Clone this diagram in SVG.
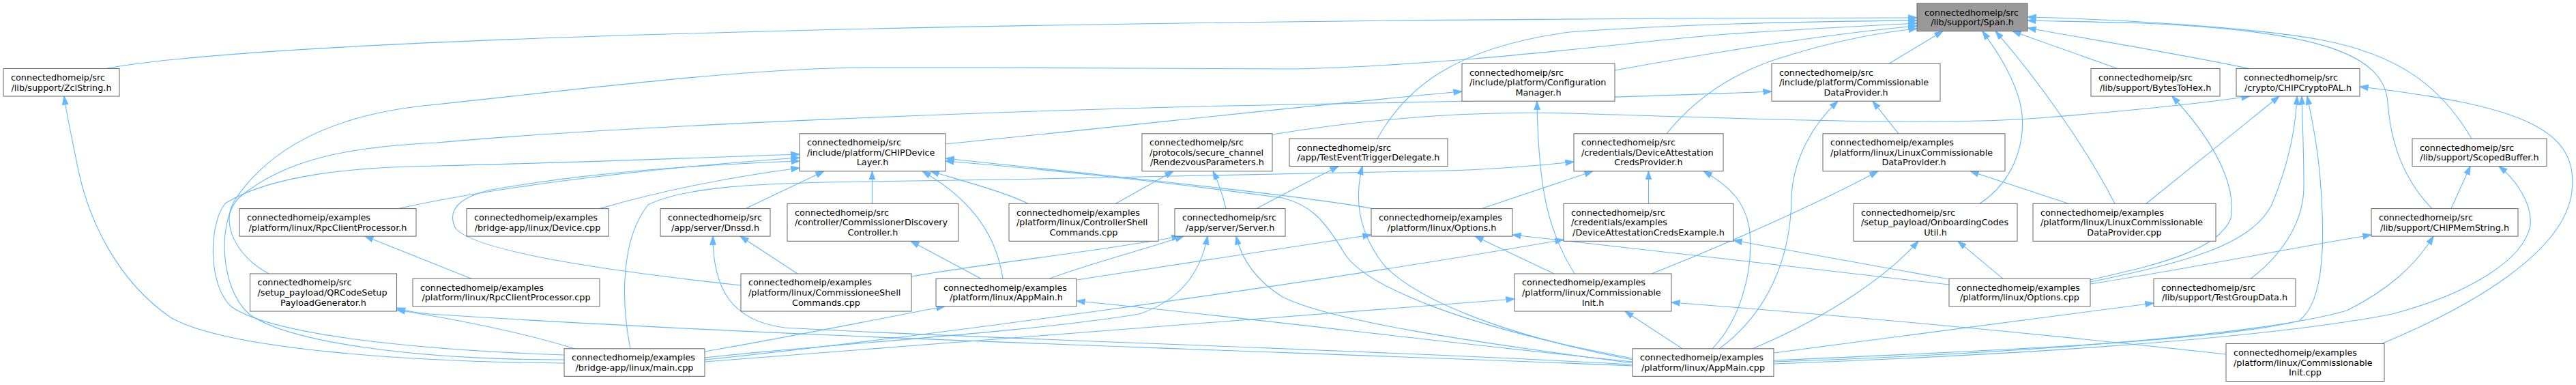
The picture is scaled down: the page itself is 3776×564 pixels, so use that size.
<svg xmlns="http://www.w3.org/2000/svg" width="3776" height="564" viewBox="0 0 3776 564">
<style>
.n rect{fill:#ffffff;stroke:#666666;stroke-width:1}
#n0 rect{fill:#999999}
text{font-family:"DejaVu Sans","Liberation Sans",sans-serif;font-size:12.8px;fill:#000000}
.m{text-anchor:middle}
#edges path{fill:none;stroke:#63b8ff;stroke-width:1.1;marker-end:url(#arr)}
</style>
<defs>
<marker id="arr" markerUnits="userSpaceOnUse" markerWidth="13" markerHeight="10" viewBox="0 0 13 10" refX="12.5" refY="5" orient="auto">
<path d="M0,0.6 L13,5 L0,9.4 z" fill="#63b8ff" stroke="#63b8ff" stroke-width="0.8"/>
</marker>
</defs>
<rect width="3776" height="564" fill="#ffffff"/>
<g id="edges">
<path d="M155,100.5 C400,55 1500,28 2810,26"/>
<path d="M2019,203 C2060,130 2130,70 2300,47 C2500,33 2700,31 2810,30"/>
<path d="M394,401 C345,375 322,325 345,292 C400,210 500,165 640,153 C900,125 1100,100 1270,99 C1500,98 1800,102 1900,101 C2150,95 2400,60 2530,50 C2650,42 2750,37 2810,34"/>
<path d="M2367,103 C2450,88 2650,52 2810,38"/>
<path d="M2769,93.2 L2848,45.7"/>
<path d="M2443,195.8 C2480,150 2530,112 2600,88 C2680,62 2750,48 2810,42"/>
<path d="M2902,298.3 C2960,260 2975,190 2958,140 C2945,100 2922,68 2906,45.7"/>
<path d="M3100,298.3 C3060,220 2990,120 2925,45.7"/>
<path d="M3104,100.5 L2950,45.7"/>
<path d="M3297,100.5 C3200,80 3050,55 2972,41"/>
<path d="M3623,203 C3580,130 3520,80 3400,58 C3300,40 3100,28 2972,25"/>
<path d="M3565,305.6 C3530,270 3505,220 3500,150 C3495,80 3400,45 3140,34 C3080,32 3010,31 2972,30"/>
<path d="M1386,211 C1650,185 1900,156 2143,134"/>
<path d="M827,527 C600,527 420,500 365,460 C320,420 320,320 350,290 C420,230 520,215 640,209 C900,185 1500,160 1900,153 C2200,148 2450,140 2597,134"/>
<path d="M827,520 C600,512 400,490 340,450 C305,420 305,330 330,298 C400,255 520,245 640,243 C850,238 1050,230 1172,226"/>
<path d="M827,532 C600,530 330,512 250,465 C170,410 130,320 115,250 C105,200 98,170 94,141"/>
<path d="M842,510.8 C760,485 650,465 581.5,454"/>
<path d="M924,510.8 C910,440 910,350 950,300 C1000,275 1100,268 1270,266 C1600,262 2000,252 2118,250 C2200,248 2260,242 2307,237"/>
<path d="M1033,515 C1150,495 1300,465 1385,448.8"/>
<path d="M1033,524 C1200,505 1500,488 1670,460 C1730,440 1760,400 1770,346"/>
<path d="M1033,527 C1300,500 1900,420 2292,351"/>
<path d="M1033,530 C1400,502 1900,462 2220,438"/>
<path d="M584,305.6 C700,280 900,250 1172,231"/>
<path d="M1086,418 C900,398 700,370 668,335 C650,300 690,285 720,278 C850,255 1000,242 1172,236"/>
<path d="M879,305.6 C950,285 1050,262 1172,246"/>
<path d="M1093,305.6 L1208,250.8"/>
<path d="M1278.4,298.3 L1278.4,250.8"/>
<path d="M1470,408.3 C1460,340 1420,290 1352,250.8"/>
<path d="M1507,298.3 C1470,280 1400,262 1364,250.8"/>
<path d="M1635.5,298.3 L1720,250.8"/>
<path d="M1797,305.6 C1792,285 1785,265 1778,250.8"/>
<path d="M1842,305.6 C1880,285 1920,265 1962,243.5"/>
<path d="M2393,527 C2200,490 2080,440 2030,390 C1990,340 1985,290 1997,243.5"/>
<path d="M2393,525 C2150,480 2000,420 1970,370 C1940,320 1920,300 1880,290 C1700,265 1500,245 1386,236"/>
<path d="M2012,305.6 C1900,285 1600,255 1386,232"/>
<path d="M1438,408.3 L1335,353.3"/>
<path d="M1538,408.3 C1600,385 1680,365 1735,346"/>
<path d="M1336,405 C1450,385 1600,370 1730,346"/>
<path d="M1578,410 C1750,385 1900,362 2010,344"/>
<path d="M2393,530 C2100,500 1800,462 1578,441"/>
<path d="M2393,532 C2150,500 1950,470 1880,435 C1840,410 1820,380 1812,346"/>
<path d="M2393,534 C2000,512 1400,495 1150,480 C1070,470 1045,420 1045,346"/>
<path d="M1169,401 L1085,346"/>
<path d="M691,408.3 L535,346"/>
<path d="M2393,536 C1900,515 1200,497 630,460 C610,458 595,456 581.5,451"/>
<path d="M2308,401 C2270,340 2255,280 2253,148.2"/>
<path d="M2278,401 L2162,346"/>
<path d="M2421,401 C2550,350 2680,290 2753,250.8"/>
<path d="M3032,298.3 L2888,250.8"/>
<path d="M2783,195.8 L2745,148.2"/>
<path d="M2520,510.8 C2590,460 2625,380 2626,290 C2628,230 2660,180 2694,148.2"/>
<path d="M2510,510.8 C2550,470 2570,400 2565,340 C2560,300 2540,275 2497,250.8"/>
<path d="M2569,510.8 C2690,460 2770,400 2812,353.3"/>
<path d="M2936,408.3 L2870,353.3"/>
<path d="M2857,417 C2700,398 2400,365 2217,344"/>
<path d="M2857,409 L2541,352"/>
<path d="M3064,410 C3150,390 3250,370 3270,320 C3280,260 3230,190 3184,141"/>
<path d="M3064,413 C3200,385 3300,360 3330,300 C3355,240 3365,190 3367,141"/>
<path d="M3064,416 C3200,395 3350,365 3476,344"/>
<path d="M2600,517 C2800,490 3000,463 3157,444"/>
<path d="M2600,528 C2900,515 3250,500 3370,470 C3410,440 3408,340 3400,250 C3395,200 3388,170 3382,141"/>
<path d="M2600,530 C2900,520 3300,495 3440,455 C3500,425 3540,390 3567,346"/>
<path d="M2600,533 C2900,522 3300,500 3507,460 C3620,430 3700,380 3709,330 C3712,300 3690,265 3663,243.5"/>
<path d="M3593,305.6 L3621,243.5"/>
<path d="M3299,408.3 C3350,370 3378,320 3377,270 C3377,220 3375,180 3374,141"/>
<path d="M3146,298.3 L3341,141"/>
<path d="M1865,197 C2000,175 2150,162 2300,166 C2600,175 2850,185 3000,172 C3150,160 3250,148 3298,141"/>
<path d="M3491,503.5 C3620,450 3760,370 3770,280 C3780,190 3700,155 3459,127"/>
<path d="M3263,519 C3000,490 2700,462 2450,443"/>
<path d="M2416.5,298.3 L2416.5,250.8"/>
<path d="M2172,305.6 L2335,250.8"/>
<path d="M2466,510.8 L2382,456"/>
</g>
<g id="n0" class="n"><rect x="2810" y="5" width="162" height="40.7"/><text x="2821" y="22.5">connectedhomeip/src</text><text class="m" x="2891" y="37.1">/lib/support/Span.h</text></g>
<g id="n1" class="n"><rect x="5" y="100.5" width="170" height="40.5"/><text x="16" y="118">connectedhomeip/src</text><text class="m" x="90" y="132.6">/lib/support/ZclString.h</text></g>
<g id="n2" class="n"><rect x="2143" y="93.2" width="224" height="55"/><text x="2154" y="110.7">connectedhomeip/src</text><text x="2154" y="125.3">/include/platform/Configuration</text><text class="m" x="2255" y="139.9">Manager.h</text></g>
<g id="n3" class="n"><rect x="2597" y="93.2" width="247" height="55"/><text x="2608" y="110.7">connectedhomeip/src</text><text x="2608" y="125.3">/include/platform/Commissionable</text><text class="m" x="2720.5" y="139.9">DataProvider.h</text></g>
<g id="n4" class="n"><rect x="3065" y="100.5" width="189" height="40.5"/><text x="3076" y="118">connectedhomeip/src</text><text class="m" x="3159.5" y="132.6">/lib/support/BytesToHex.h</text></g>
<g id="n5" class="n"><rect x="3278" y="100.5" width="181" height="40.5"/><text x="3289" y="118">connectedhomeip/src</text><text class="m" x="3368.5" y="132.6">/crypto/CHIPCryptoPAL.h</text></g>
<g id="n6" class="n"><rect x="1172" y="195.8" width="214" height="55"/><text x="1183" y="213.2">connectedhomeip/src</text><text x="1183" y="227.8">/include/platform/CHIPDevice</text><text class="m" x="1279" y="242.4">Layer.h</text></g>
<g id="n7" class="n"><rect x="1674" y="195.8" width="191" height="55"/><text x="1685" y="213.2">connectedhomeip/src</text><text x="1685" y="227.8">/protocols/secure_channel</text><text class="m" x="1769.5" y="242.4">/RendezvousParameters.h</text></g>
<g id="n8" class="n"><rect x="1890" y="203" width="232" height="40.5"/><text x="1901" y="220.5">connectedhomeip/src</text><text class="m" x="2006" y="235.1">/app/TestEventTriggerDelegate.h</text></g>
<g id="n9" class="n"><rect x="2307" y="195.8" width="219" height="55"/><text x="2318" y="213.2">connectedhomeip/src</text><text x="2318" y="227.8">/credentials/DeviceAttestation</text><text class="m" x="2416.5" y="242.4">CredsProvider.h</text></g>
<g id="n10" class="n"><rect x="2672" y="195.8" width="267" height="55"/><text x="2683" y="213.2">connectedhomeip/examples</text><text x="2683" y="227.8">/platform/linux/LinuxCommissionable</text><text class="m" x="2805.5" y="242.4">DataProvider.h</text></g>
<g id="n11" class="n"><rect x="3536" y="203" width="197" height="40.5"/><text x="3547" y="220.5">connectedhomeip/src</text><text class="m" x="3634.5" y="235.1">/lib/support/ScopedBuffer.h</text></g>
<g id="n12" class="n"><rect x="351" y="305.6" width="259" height="40.5"/><text x="362" y="323">connectedhomeip/examples</text><text class="m" x="480.5" y="337.6">/platform/linux/RpcClientProcessor.h</text></g>
<g id="n13" class="n"><rect x="684" y="305.6" width="208" height="40.5"/><text x="695" y="323">connectedhomeip/examples</text><text class="m" x="788" y="337.6">/bridge-app/linux/Device.cpp</text></g>
<g id="n14" class="n"><rect x="968" y="305.6" width="161" height="40.5"/><text x="979" y="323">connectedhomeip/src</text><text class="m" x="1048.5" y="337.6">/app/server/Dnssd.h</text></g>
<g id="n15" class="n"><rect x="1154" y="298.3" width="251" height="55"/><text x="1165" y="315.7">connectedhomeip/src</text><text x="1165" y="330.3">/controller/CommissionerDiscovery</text><text class="m" x="1279.5" y="344.9">Controller.h</text></g>
<g id="n16" class="n"><rect x="1479" y="298.3" width="219" height="55"/><text x="1490" y="315.7">connectedhomeip/examples</text><text x="1490" y="330.3">/platform/linux/ControllerShell</text><text class="m" x="1588.5" y="344.9">Commands.cpp</text></g>
<g id="n17" class="n"><rect x="1722" y="305.6" width="162" height="40.5"/><text x="1733" y="323">connectedhomeip/src</text><text class="m" x="1803" y="337.6">/app/server/Server.h</text></g>
<g id="n18" class="n"><rect x="2010" y="305.6" width="207" height="40.5"/><text x="2021" y="323">connectedhomeip/examples</text><text class="m" x="2113.5" y="337.6">/platform/linux/Options.h</text></g>
<g id="n19" class="n"><rect x="2292" y="298.3" width="249" height="55"/><text x="2303" y="315.7">connectedhomeip/src</text><text x="2303" y="330.3">/credentials/examples</text><text class="m" x="2416.5" y="344.9">/DeviceAttestationCredsExample.h</text></g>
<g id="n20" class="n"><rect x="2717" y="298.3" width="240" height="55"/><text x="2728" y="315.7">connectedhomeip/src</text><text x="2728" y="330.3">/setup_payload/OnboardingCodes</text><text class="m" x="2837" y="344.9">Util.h</text></g>
<g id="n21" class="n"><rect x="2980" y="298.3" width="268" height="55"/><text x="2991" y="315.7">connectedhomeip/examples</text><text x="2991" y="330.3">/platform/linux/LinuxCommissionable</text><text class="m" x="3114" y="344.9">DataProvider.cpp</text></g>
<g id="n22" class="n"><rect x="3476" y="305.6" width="215" height="40.5"/><text x="3487" y="323">connectedhomeip/src</text><text class="m" x="3583.5" y="337.6">/lib/support/CHIPMemString.h</text></g>
<g id="n23" class="n"><rect x="366.5" y="401" width="215" height="55"/><text x="377.5" y="418.4">connectedhomeip/src</text><text x="377.5" y="433">/setup_payload/QRCodeSetup</text><text class="m" x="474" y="447.6">PayloadGenerator.h</text></g>
<g id="n24" class="n"><rect x="605" y="408.3" width="274" height="40.5"/><text x="616" y="425.7">connectedhomeip/examples</text><text class="m" x="742" y="440.3">/platform/linux/RpcClientProcessor.cpp</text></g>
<g id="n25" class="n"><rect x="1086" y="401" width="250" height="55"/><text x="1097" y="418.4">connectedhomeip/examples</text><text x="1097" y="433">/platform/linux/CommissioneeShell</text><text class="m" x="1211" y="447.6">Commands.cpp</text></g>
<g id="n26" class="n"><rect x="1372" y="408.3" width="206" height="40.5"/><text x="1383" y="425.7">connectedhomeip/examples</text><text class="m" x="1475" y="440.3">/platform/linux/AppMain.h</text></g>
<g id="n27" class="n"><rect x="2220" y="401" width="230" height="55"/><text x="2231" y="418.4">connectedhomeip/examples</text><text x="2231" y="433">/platform/linux/Commissionable</text><text class="m" x="2335" y="447.6">Init.h</text></g>
<g id="n28" class="n"><rect x="2857" y="408.3" width="207" height="40.5"/><text x="2868" y="425.7">connectedhomeip/examples</text><text class="m" x="2960.5" y="440.3">/platform/linux/Options.cpp</text></g>
<g id="n29" class="n"><rect x="3157" y="408.3" width="208" height="40.5"/><text x="3168" y="425.7">connectedhomeip/src</text><text class="m" x="3261" y="440.3">/lib/support/TestGroupData.h</text></g>
<g id="n30" class="n"><rect x="827" y="510.8" width="206" height="40.5"/><text x="838" y="528.2">connectedhomeip/examples</text><text class="m" x="930" y="542.8">/bridge-app/linux/main.cpp</text></g>
<g id="n31" class="n"><rect x="2393" y="510.8" width="207" height="40.5"/><text x="2404" y="528.2">connectedhomeip/examples</text><text class="m" x="2496.5" y="542.8">/platform/linux/AppMain.cpp</text></g>
<g id="n32" class="n"><rect x="3263" y="503.5" width="232" height="55"/><text x="3274" y="520.9">connectedhomeip/examples</text><text x="3274" y="535.5">/platform/linux/Commissionable</text><text class="m" x="3379" y="550.1">Init.cpp</text></g>
</svg>
